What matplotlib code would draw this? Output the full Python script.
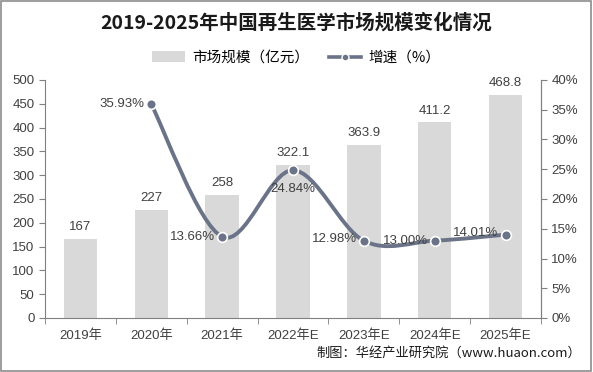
import numpy as np
import matplotlib.pyplot as plt
from matplotlib.path import Path
from matplotlib.patches import PathPatch, Rectangle, Patch
from matplotlib.lines import Line2D

plt.rcParams['font.family'] = ['Liberation Sans', 'Noto Sans CJK SC', 'DejaVu Sans']

years = ['2019年', '2020年', '2021年', '2022年E', '2023年E', '2024年E', '2025年E']
market = [167, 227, 258, 322.1, 363.9, 411.2, 468.8]
market_labels = ['167', '227', '258', '322.1', '363.9', '411.2', '468.8']
growth = [35.93, 13.66, 24.84, 12.98, 13.00, 14.01]   # from 2020
growth_labels = ['35.93%', '13.66%', '24.84%', '12.98%', '13.00%', '14.01%']

bar_color = '#d9d9d9'
line_color = '#6b7388'
text_color = '#404040'

fig = plt.figure(figsize=(5.93, 3.72), dpi=100)
ax1 = fig.add_axes([45/593, 54/372, 496/593, 238/372])
ax2 = ax1.twinx()

x = np.arange(len(years))
ax1.bar(x, market, width=0.47, color=bar_color, zorder=2)
for xi, v, s in zip(x, market, market_labels):
    ax1.text(xi, v + 12, s, ha='center', va='bottom', fontsize=9.5, color=text_color)

ax1.set_xlim(-0.5, len(years) - 0.5)
ax1.set_ylim(0, 500)
ax1.set_yticks(np.arange(0, 501, 50))
ax1.set_xticks(x)
ax1.set_xticklabels(years, fontsize=9.5, color=text_color)
ax1.set_xticks(np.arange(-0.5, len(years), 1), minor=True)
ax1.tick_params(axis='x', which='major', length=0, pad=8)
ax1.tick_params(axis='x', which='minor', length=4, color='#808080')
ax1.tick_params(axis='y', labelsize=9.5, labelcolor=text_color, length=4, color='#808080')
ax1.spines['top'].set_visible(False)
for s in ['left', 'bottom', 'right']:
    ax1.spines[s].set_color('#808080')

ax2.set_ylim(0, 40)
ax2.set_yticks(np.arange(0, 41, 5))
ax2.set_yticklabels([f'{v}%' for v in range(0, 41, 5)])
ax2.tick_params(axis='y', labelsize=9.5, labelcolor=text_color, length=4, color='#808080')
ax2.spines['top'].set_visible(False)
ax2.spines['right'].set_color('#808080')
ax2.spines['left'].set_visible(False)
ax2.spines['bottom'].set_visible(False)

# smoothed growth line (Catmull-Rom as cubic bezier)
gx = x[1:]
pts = np.column_stack([gx, growth]).astype(float)
n = len(pts)
verts = [pts[0]]
codes = [Path.MOVETO]
for i in range(n - 1):
    p0 = pts[i - 1] if i > 0 else pts[i]
    p1 = pts[i]
    p2 = pts[i + 1]
    p3 = pts[i + 2] if i + 2 < n else pts[i + 1]
    c1 = p1 + (p2 - p0) / 6
    c2 = p2 - (p3 - p1) / 6
    verts += [c1, c2, p2]
    codes += [Path.CURVE4] * 3
ax2.add_patch(PathPatch(Path(verts, codes), facecolor='none', edgecolor=line_color,
                        lw=2.8, zorder=3))
ax2.plot(gx, growth, 'o', color=line_color, markersize=7, markeredgecolor='white',
         markeredgewidth=1.2, zorder=4)

offsets = [(-5, 0, 'right', 'center'), (-5, 0, 'right', 'center'), (0, -9, 'center', 'top'),
           (-5, 1, 'right', 'center'), (-5, 0, 'right', 'center'), (-5, 1, 'right', 'center')]
for xi, v, s, (dx, dy, ha, va) in zip(gx, growth, growth_labels, offsets):
    ax2.annotate(s, (xi, v), xytext=(dx, dy), textcoords='offset points', ha=ha, va=va,
                 fontsize=9.5, color=text_color, zorder=5)

fig.text(0.5, 0.94, '2019-2025年中国再生医学市场规模变化情况', ha='center', va='center',
         fontsize=14, fontweight='bold', color='#1a1a1a',
         family=['Noto Sans CJK SC', 'DejaVu Sans'])

handles = [Patch(facecolor=bar_color, edgecolor='none'),
           Line2D([], [], color=line_color, lw=2.6, marker='o', markersize=5,
                  markeredgecolor='white')]
fig.legend(handles, ['市场规模（亿元）', '增速（%）'], loc='center', bbox_to_anchor=(0.5, 0.845),
           ncol=2, frameon=False, handlelength=2.2, handletextpad=0.5, columnspacing=1.4,
           prop={'family': ['Noto Sans CJK SC', 'DejaVu Sans'], 'size': 10.5})

fig.text(581/593, 1 - 353/372, '制图：华经产业研究院（www.huaon.com）', ha='right', va='center',
         fontsize=9.5, color='#1a1a1a', family=['Noto Sans CJK SC', 'DejaVu Sans'])

fig.patches.append(Rectangle((0.002, 0.003), 0.995, 0.993, transform=fig.transFigure,
                             fill=False, edgecolor='#8c8c8c', lw=1.2))

fig.savefig('out.png', dpi=100)
